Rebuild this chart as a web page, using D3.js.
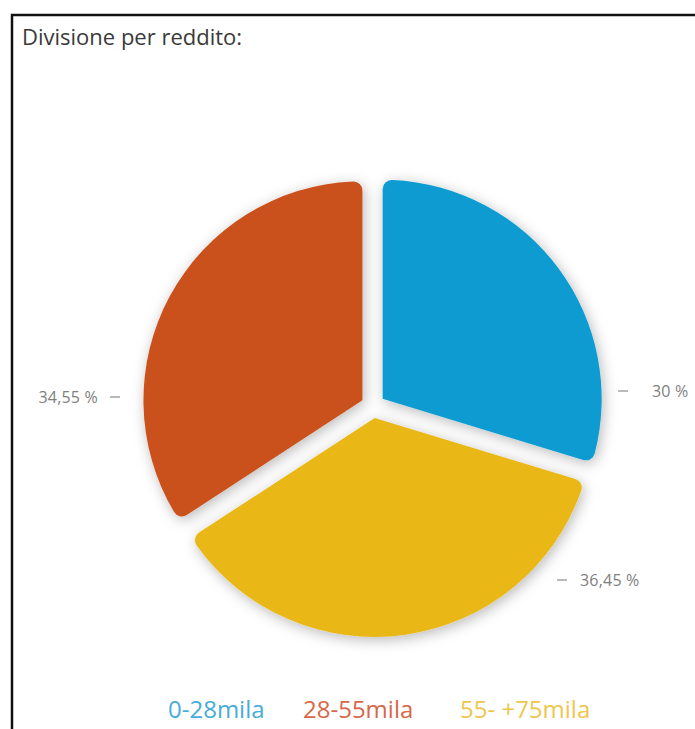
<!DOCTYPE html>
<html>
<head>
<meta charset="utf-8">
<script src="https://cdn.jsdelivr.net/npm/d3@7/dist/d3.min.js"></script>
<style>
  html, body { margin: 0; padding: 0; background: #fff; }
  svg { display: block; }
</style>
</head>
<body>
<svg id="chart" width="695" height="729"></svg>
<script>
// ---- data ----
const categories = ["0-28mila", "28-55mila", "55- +75mila"];
const values = [30, 34.55, 36.45];
const valueLabels = ["30 %", "34,55 %", "36,45 %"];
const title = "Divisione per reddito:";
// drawing order around the pie (clockwise from 12 o'clock)
const sliceOrder = [0, 2, 1];

const colors = ["#0a9bd2", "#ca511b", "#e9b819"];
const legendColors = ["#47acd9", "#d9674a", "#eec64e"];

const W = 695, H = 729;
const svg = d3.select("#chart");
const cx = 373, cy = 406, R = 219, explode = 12;

// frame
svg.append("rect").attr("x", 12).attr("y", 15).attr("width", W + 20).attr("height", H + 20)
  .attr("fill", "none").attr("stroke", "#111").attr("stroke-width", 2.5);

// title
svg.append("text").attr("x", 22).attr("y", 45)
  .attr("font-family", "Open Sans, sans-serif").attr("font-size", 22)
  .attr("fill", "#3a3a3a").text(title);

// shadow filter
const defs = svg.append("defs");
const f = defs.append("filter").attr("id", "sh").attr("x", "-20%").attr("y", "-20%")
  .attr("width", "140%").attr("height", "140%");
f.append("feDropShadow").attr("dx", 2).attr("dy", 3).attr("stdDeviation", 7)
  .attr("flood-color", "#000").attr("flood-opacity", 0.28);

const ordered = sliceOrder.map(i => ({ i, v: values[i] }));
const pie = d3.pie().sort(null).value(d => d.v).startAngle(0).endAngle(2 * Math.PI);
const arcs = pie(ordered);
const arc = d3.arc().innerRadius(0).outerRadius(R).cornerRadius(9);

const g = svg.append("g").attr("transform", `translate(${cx},${cy})`);
g.selectAll("path").data(arcs).enter().append("path")
  .attr("d", arc)
  .attr("fill", d => colors[d.data.i])
  .attr("filter", "url(#sh)")
  .attr("transform", d => {
    const a = (d.startAngle + d.endAngle) / 2;
    return `translate(${Math.sin(a) * explode},${-Math.cos(a) * explode})`;
  });

// value labels
const lblFont = "Open Sans, sans-serif";
const lbl = svg.append("g").attr("font-family", lblFont).attr("font-size", 16)
  .attr("fill", "#808080").attr("letter-spacing", 0.2);
const dash = (x1, y) => lbl.append("line").attr("x1", x1).attr("x2", x1 + 10)
  .attr("y1", y).attr("y2", y).attr("stroke", "#8a8a8a").attr("stroke-width", 1.2);

// blue (right)
dash(cx + 245, cy - 15);
lbl.append("text").attr("x", cx + 279).attr("y", cy - 9).text(valueLabels[0]);
// orange (left)
dash(cx - 263, cy - 9);
lbl.append("text").attr("x", cx - 275).attr("y", cy - 3).attr("text-anchor", "end").text(valueLabels[1]);
// yellow (lower right)
dash(cx + 184, cy + 174);
lbl.append("text").attr("x", cx + 207).attr("y", cy + 180).text(valueLabels[2]);

// legend
const legX = [168, 303, 460];
svg.append("g").selectAll("text").data(categories).enter().append("text")
  .attr("x", (d, i) => legX[i]).attr("y", 718)
  .attr("font-family", "Open Sans, sans-serif").attr("font-size", 24)
  .attr("fill", (d, i) => legendColors[i]).text(d => d);
</script>
</body>
</html>
